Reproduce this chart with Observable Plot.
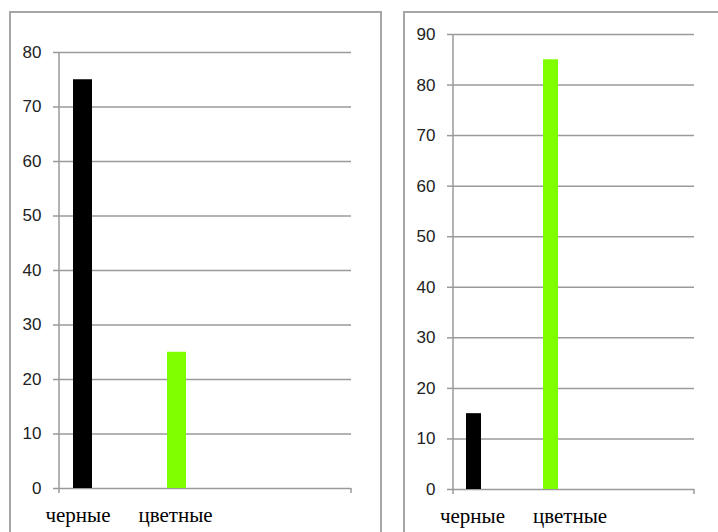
<!DOCTYPE html>
<html>
<head>
<meta charset="utf-8">
<script src="https://cdn.jsdelivr.net/npm/d3@7"></script>
<script src="https://cdn.jsdelivr.net/npm/@observablehq/plot@0.6"></script>
<style>
  html, body { margin: 0; padding: 0; background: #fff; }
  #page { position: relative; width: 718px; height: 532px; overflow: hidden; background: #fff; }
  .box { position: absolute; border: 2px solid #a6a6a6; box-sizing: border-box; }
  .chart { position: absolute; top: 0; }
</style>
</head>
<body>
<div id="page">
  <div class="box" style="left:9px; top:11px; width:373px; height:540px;"></div>
  <div class="box" style="left:403px; top:11px; width:340px; height:540px;"></div>
  <div id="left" class="chart" style="left:0px;"></div>
  <div id="right" class="chart" style="left:390px;"></div>
</div>
<script>
// ---- data ----
const categories = ["черные", "цветные"];
const leftValues = [75, 25];
const rightValues = [15, 85];
const barColors = ["#000000", "#7FFF00"];
const leftTicks = [0, 10, 20, 30, 40, 50, 60, 70, 80];
const rightTicks = [0, 10, 20, 30, 40, 50, 60, 70, 80, 90];

const gridColor = "#9a9a9a";
const tickFont = "Liberation Sans, Arial, sans-serif";
const labelFont = "Liberation Serif, Times New Roman, serif";

function axisLines(index, scales, values, dims) {
  const g = d3.create("svg:g").attr("stroke", gridColor).attr("stroke-width", 1.5);
  const x0 = dims.marginLeft, x1 = dims.width - dims.marginRight;
  const yTop = dims.marginTop, y0 = dims.height - dims.marginBottom;
  g.append("line").attr("x1", x0).attr("x2", x0).attr("y1", yTop).attr("y2", y0 + 5);
  g.append("line").attr("x1", x1).attr("x2", x1).attr("y1", y0).attr("y2", y0 + 5);
  return g.node();
}

function makeChart(values, ticks, opts) {
  const data = categories.map((c, i) => ({cat: c, value: values[i], color: barColors[i]}));
  return Plot.plot({
    width: opts.width,
    height: 532,
    marginLeft: opts.marginLeft,
    marginRight: opts.marginRight,
    marginTop: opts.marginTop,
    marginBottom: opts.marginBottom,
    style: {background: "transparent", overflow: "visible"},
    x: {type: "band", domain: categories, range: opts.xRange, paddingInner: 0.8, paddingOuter: 0.4, axis: null},
    y: {domain: [0, ticks[ticks.length - 1]], axis: null},
    marks: [
      Plot.ruleY(ticks, {stroke: gridColor, strokeWidth: 1.5}),
      axisLines,
      Plot.axisY(ticks, {tickSize: 6, tickPadding: 12, stroke: gridColor, strokeWidth: 1.5, fill: "#222", fontSize: 17, fontFamily: tickFont, label: null}),
      Plot.barY(data, {x: "cat", y: "value", fill: "color"}),
      ...categories.map((c, i) => Plot.axisX([c], {tickSize: 0, tickPadding: 19, dx: opts.labelDx[i], fill: "#000", fontSize: 21, fontFamily: labelFont, label: null}))
    ]
  });
}

document.getElementById("left").append(makeChart(leftValues, leftTicks, {
  width: 390, marginLeft: 59, marginRight: 39, marginTop: 52, marginBottom: 44,
  xRange: [35.5, 223.5], labelDx: [-5, -1.5]
}));
document.getElementById("right").append(makeChart(rightValues, rightTicks, {
  width: 328, marginLeft: 63, marginRight: 24, marginTop: 34, marginBottom: 43,
  xRange: [44.75, 199.75], labelDx: [-1.5, 19]
}));
</script>
</body>
</html>
